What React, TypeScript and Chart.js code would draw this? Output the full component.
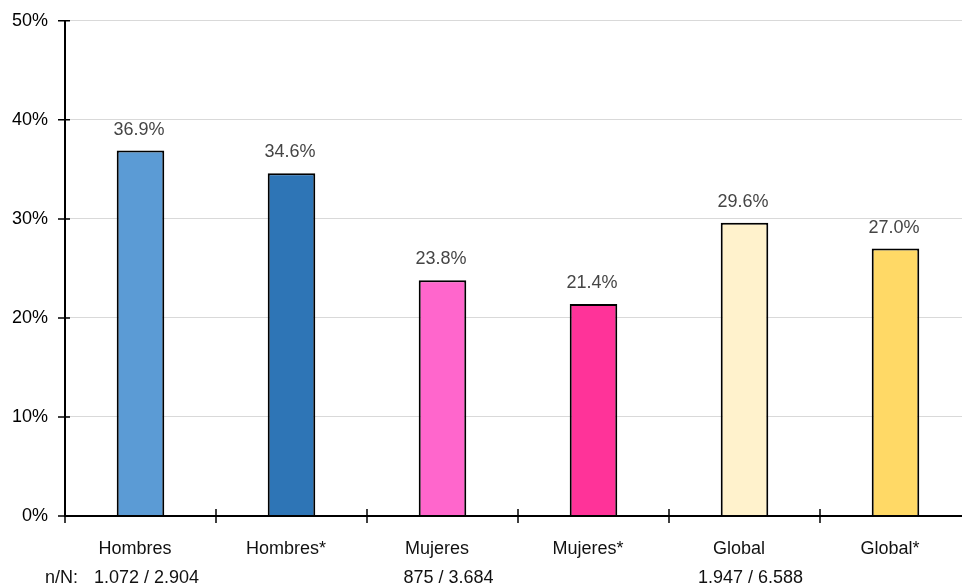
import React, { useEffect, useRef } from "react";
import { Chart, registerables } from "chart.js";

Chart.register(...registerables);

const categories = ["Hombres", "Hombres*", "Mujeres", "Mujeres*", "Global", "Global*"];
const values = [36.9, 34.6, 23.8, 21.4, 29.6, 27.0];
const valueLabels = ["36.9%", "34.6%", "23.8%", "21.4%", "29.6%", "27.0%"];
const barColors = ["#5B9BD5", "#2E75B6", "#FF66CC", "#FF3399", "#FFF2CC", "#FFD966"];
const nLabel = "n/N:";
const nValues = ["1.072 / 2.904", "", "875 / 3.684", "", "1.947 / 6.588", ""];
const yMin = 0;
const yMax = 50;
const yStep = 10;

const FONT = '"Liberation Sans", Helvetica, Arial, sans-serif';
const FONT_SIZE = 18;
const SHIFT = 7;

const overlayPlugin = {
  id: "overlay",
  afterDraw(chart: any) {
    const ctx = chart.ctx;
    const { left, top, bottom } = chart.chartArea;
    const xs = chart.scales.x;
    const ys = chart.scales.y;
    ctx.save();

    // value labels above bars
    ctx.font = `${FONT_SIZE}px ${FONT}`;
    ctx.fillStyle = "#454545";
    ctx.textAlign = "center";
    ctx.textBaseline = "middle";
    const meta = chart.getDatasetMeta(0);
    meta.data.forEach((bar: any, i: number) => {
      ctx.fillText(valueLabels[i], bar.x - 1.5, bar.y - 21);
    });

    // axis lines
    ctx.strokeStyle = "#000";
    ctx.lineWidth = 2;
    ctx.beginPath();
    ctx.moveTo(left, top);
    ctx.lineTo(left, bottom + 1);
    ctx.moveTo(left - 1, bottom);
    ctx.lineTo(chart.width, bottom);
    ctx.stroke();

    // y tick marks
    ctx.lineWidth = 1.5;
    ctx.beginPath();
    ys.ticks.forEach((t: any) => {
      const py = ys.getPixelForValue(t.value);
      ctx.moveTo(left - 7, py);
      ctx.lineTo(left + 5, py);
    });
    // x tick marks at category boundaries
    for (let i = 0; i <= categories.length; i++) {
      const px = xs.getPixelForValue(i - 0.5);
      ctx.moveTo(px, bottom - 7);
      ctx.lineTo(px, bottom + 7);
    }
    ctx.stroke();

    // category labels
    ctx.fillStyle = "#111";
    categories.forEach((c, i) => {
      ctx.fillText(c, xs.getPixelForValue(i) - 5.5, bottom + 33);
    });

    // n/N row
    ctx.textAlign = "left";
    ctx.fillText(nLabel, 45, bottom + 62);
    ctx.textAlign = "center";
    nValues.forEach((v, i) => {
      if (v) ctx.fillText(v, xs.getPixelForValue(i) + 6, bottom + 62);
    });

    ctx.restore();
  },
};

export default function App() {
  const ref = useRef<HTMLCanvasElement>(null);

  useEffect(() => {
    if (!ref.current) return;
    const chart = new Chart(ref.current, {
      type: "bar",
      data: {
        labels: categories,
        datasets: [
          {
            data: values,
            backgroundColor: barColors,
            borderColor: "#000",
            borderWidth: 2,
            barPercentage: 0.315,
            categoryPercentage: 1,
          },
        ],
      },
      options: {
        animation: false,
        responsive: false,
        devicePixelRatio: 1,
        layout: { padding: { top: 11, right: 9, left: 0, bottom: 0 } },
        plugins: {
          legend: { display: false },
          tooltip: { enabled: false },
        },
        scales: {
          x: {
            grid: { display: false },
            border: { display: false },
            ticks: { display: false },
            afterFit: (s: any) => {
              s.height = 71;
            },
          },
          y: {
            min: yMin,
            max: yMax,
            grid: { color: "#d9d9d9", lineWidth: 1, drawTicks: false },
            border: { display: false },
            ticks: {
              stepSize: yStep,
              padding: 17,
              color: "#000",
              font: { family: FONT, size: FONT_SIZE },
              callback: (v: any) => `${v}%`,
            },
            afterFit: (s: any) => {
              s.width = 65;
            },
          },
        },
      },
      plugins: [overlayPlugin],
    });
    return () => chart.destroy();
  }, []);

  return (
    <div
      style={{
        position: "fixed",
        left: 0,
        top: 0,
        width: 962,
        height: 587,
        overflow: "hidden",
        background: "#fff",
      }}
    >
      <canvas
        ref={ref}
        width={980}
        height={587 + SHIFT}
        style={{ width: 980, height: 587 + SHIFT, display: "block", marginTop: -SHIFT }}
      />
    </div>
  );
}
